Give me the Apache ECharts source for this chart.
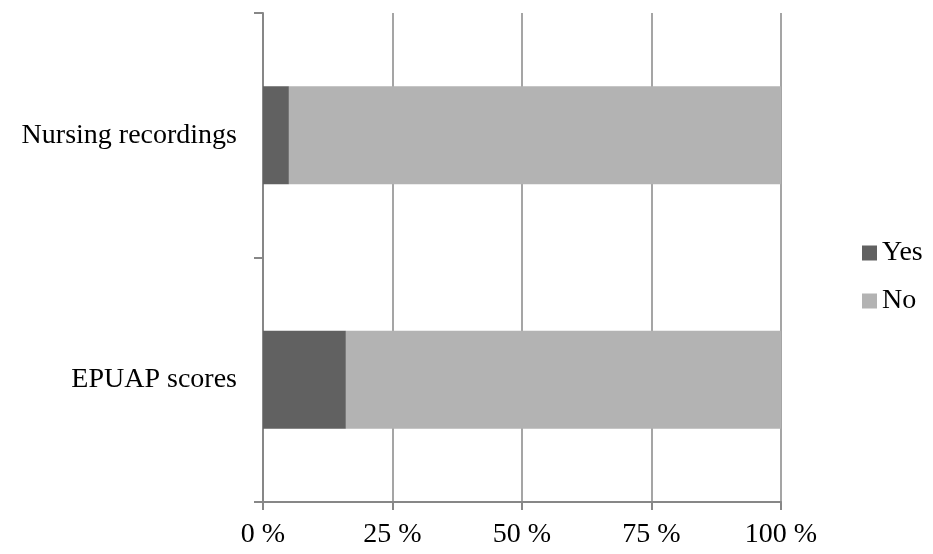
<!DOCTYPE html>
<html>
<head>
<meta charset="utf-8">
<script src="https://cdn.jsdelivr.net/npm/echarts@6/dist/echarts.min.js"></script>
<style>html,body{margin:0;padding:0;background:#fff}#c{width:933px;height:554px}</style>
</head>
<body>
<div id="c"></div>
<script>
const categories = ['EPUAP scores', 'Nursing recordings'];
const yesValues = [16, 5];
const noValues = [84, 95];
const seriesNames = ['Yes', 'No'];
const xTicks = [0, 25, 50, 75, 100];

const axisColor = '#878787';
const font = 'Liberation Serif';
const chart = echarts.init(document.getElementById('c'), null, {renderer: 'canvas'});
chart.setOption({
  animation: false,
  backgroundColor: '#ffffff',
  textStyle: {fontFamily: font, color: '#000'},
  grid: {left: 263, right: 152, top: 13, bottom: 52, containLabel: false},
  legend: {
    orient: 'vertical',
    left: 862, top: 239, padding: 0,
    itemWidth: 15, itemHeight: 15, itemGap: 20,
    icon: 'rect',
    data: seriesNames,
    textStyle: {fontFamily: font, fontSize: 28, color: '#000'}
  },
  xAxis: {
    type: 'value', min: xTicks[0], max: xTicks[xTicks.length - 1], interval: 25,
    axisLine: {show: true, lineStyle: {color: axisColor, width: 2}},
    axisTick: {show: true, length: 8, lineStyle: {color: axisColor, width: 2}},
    splitLine: {show: true, lineStyle: {color: axisColor, width: 1.5}},
    axisLabel: {formatter: '{value} %', fontFamily: font, fontSize: 28, color: '#000', margin: 19}
  },
  yAxis: {
    type: 'category', data: categories,
    axisLine: {show: true, lineStyle: {color: axisColor, width: 2}},
    axisTick: {show: true, length: 9, lineStyle: {color: axisColor, width: 2}},
    axisLabel: {fontFamily: font, fontSize: 28, color: '#000', margin: 26}
  },
  series: [
    {name: seriesNames[0], type: 'bar', stack: 't', data: yesValues, barCategoryGap: '60%',
     itemStyle: {color: '#616161'}},
    {name: seriesNames[1], type: 'bar', stack: 't', data: noValues, barCategoryGap: '60%',
     itemStyle: {color: '#b3b3b3'}}
  ]
});
</script>
</body>
</html>
